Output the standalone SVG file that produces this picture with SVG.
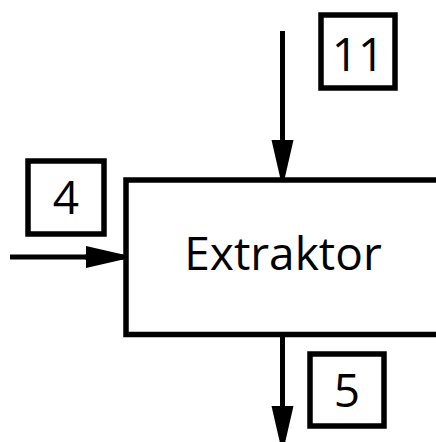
<svg xmlns="http://www.w3.org/2000/svg" width="436" height="442" viewBox="0 0 436 442">
<defs>
<style>
.box{fill:#fff;stroke:#000;stroke-width:5.5}
.ln{fill:none;stroke:#000;stroke-width:5}
.t{font-family:"Open Sans","Noto Sans",sans-serif;font-size:46px;fill:#000;text-anchor:middle}
</style>
<marker id="ah" markerUnits="userSpaceOnUse" markerWidth="40" markerHeight="24" viewBox="0 0 38 24" refX="37" refY="12" orient="auto">
<path d="M0,1 L37,9.5 L37,14.5 L0,23 z" fill="#000"/>
</marker>
</defs>
<rect width="436" height="442" fill="#fff"/>
<g id="extraktor">
<rect class="box" x="126" y="180" width="320" height="154.5"/>
<text class="t" x="283" y="270">Extraktor</text>
</g>
<g id="label-11">
<rect class="box" x="321" y="15" width="74" height="73"/>
<text class="t" x="358" y="71">11</text>
</g>
<g id="label-4">
<rect class="box" x="28" y="161" width="76" height="73"/>
<text class="t" x="66" y="214">4</text>
</g>
<g id="label-5">
<rect class="box" x="310" y="354" width="74" height="72"/>
<text class="t" x="347" y="407">5</text>
</g>
<g id="connectors">
<line class="ln" x1="282.5" y1="31" x2="282.5" y2="180"/>
<line class="ln" x1="282.5" y1="139" x2="282.5" y2="177" marker-end="url(#ah)" stroke-width="0"/>
<line class="ln" x1="10" y1="257" x2="126" y2="257"/>
<line class="ln" x1="85" y1="257" x2="123" y2="257" marker-end="url(#ah)" stroke-width="0"/>
<line class="ln" x1="282.5" y1="334" x2="282.5" y2="442"/>
<line class="ln" x1="282.5" y1="405" x2="282.5" y2="443" marker-end="url(#ah)" stroke-width="0"/>
</g>
</svg>
